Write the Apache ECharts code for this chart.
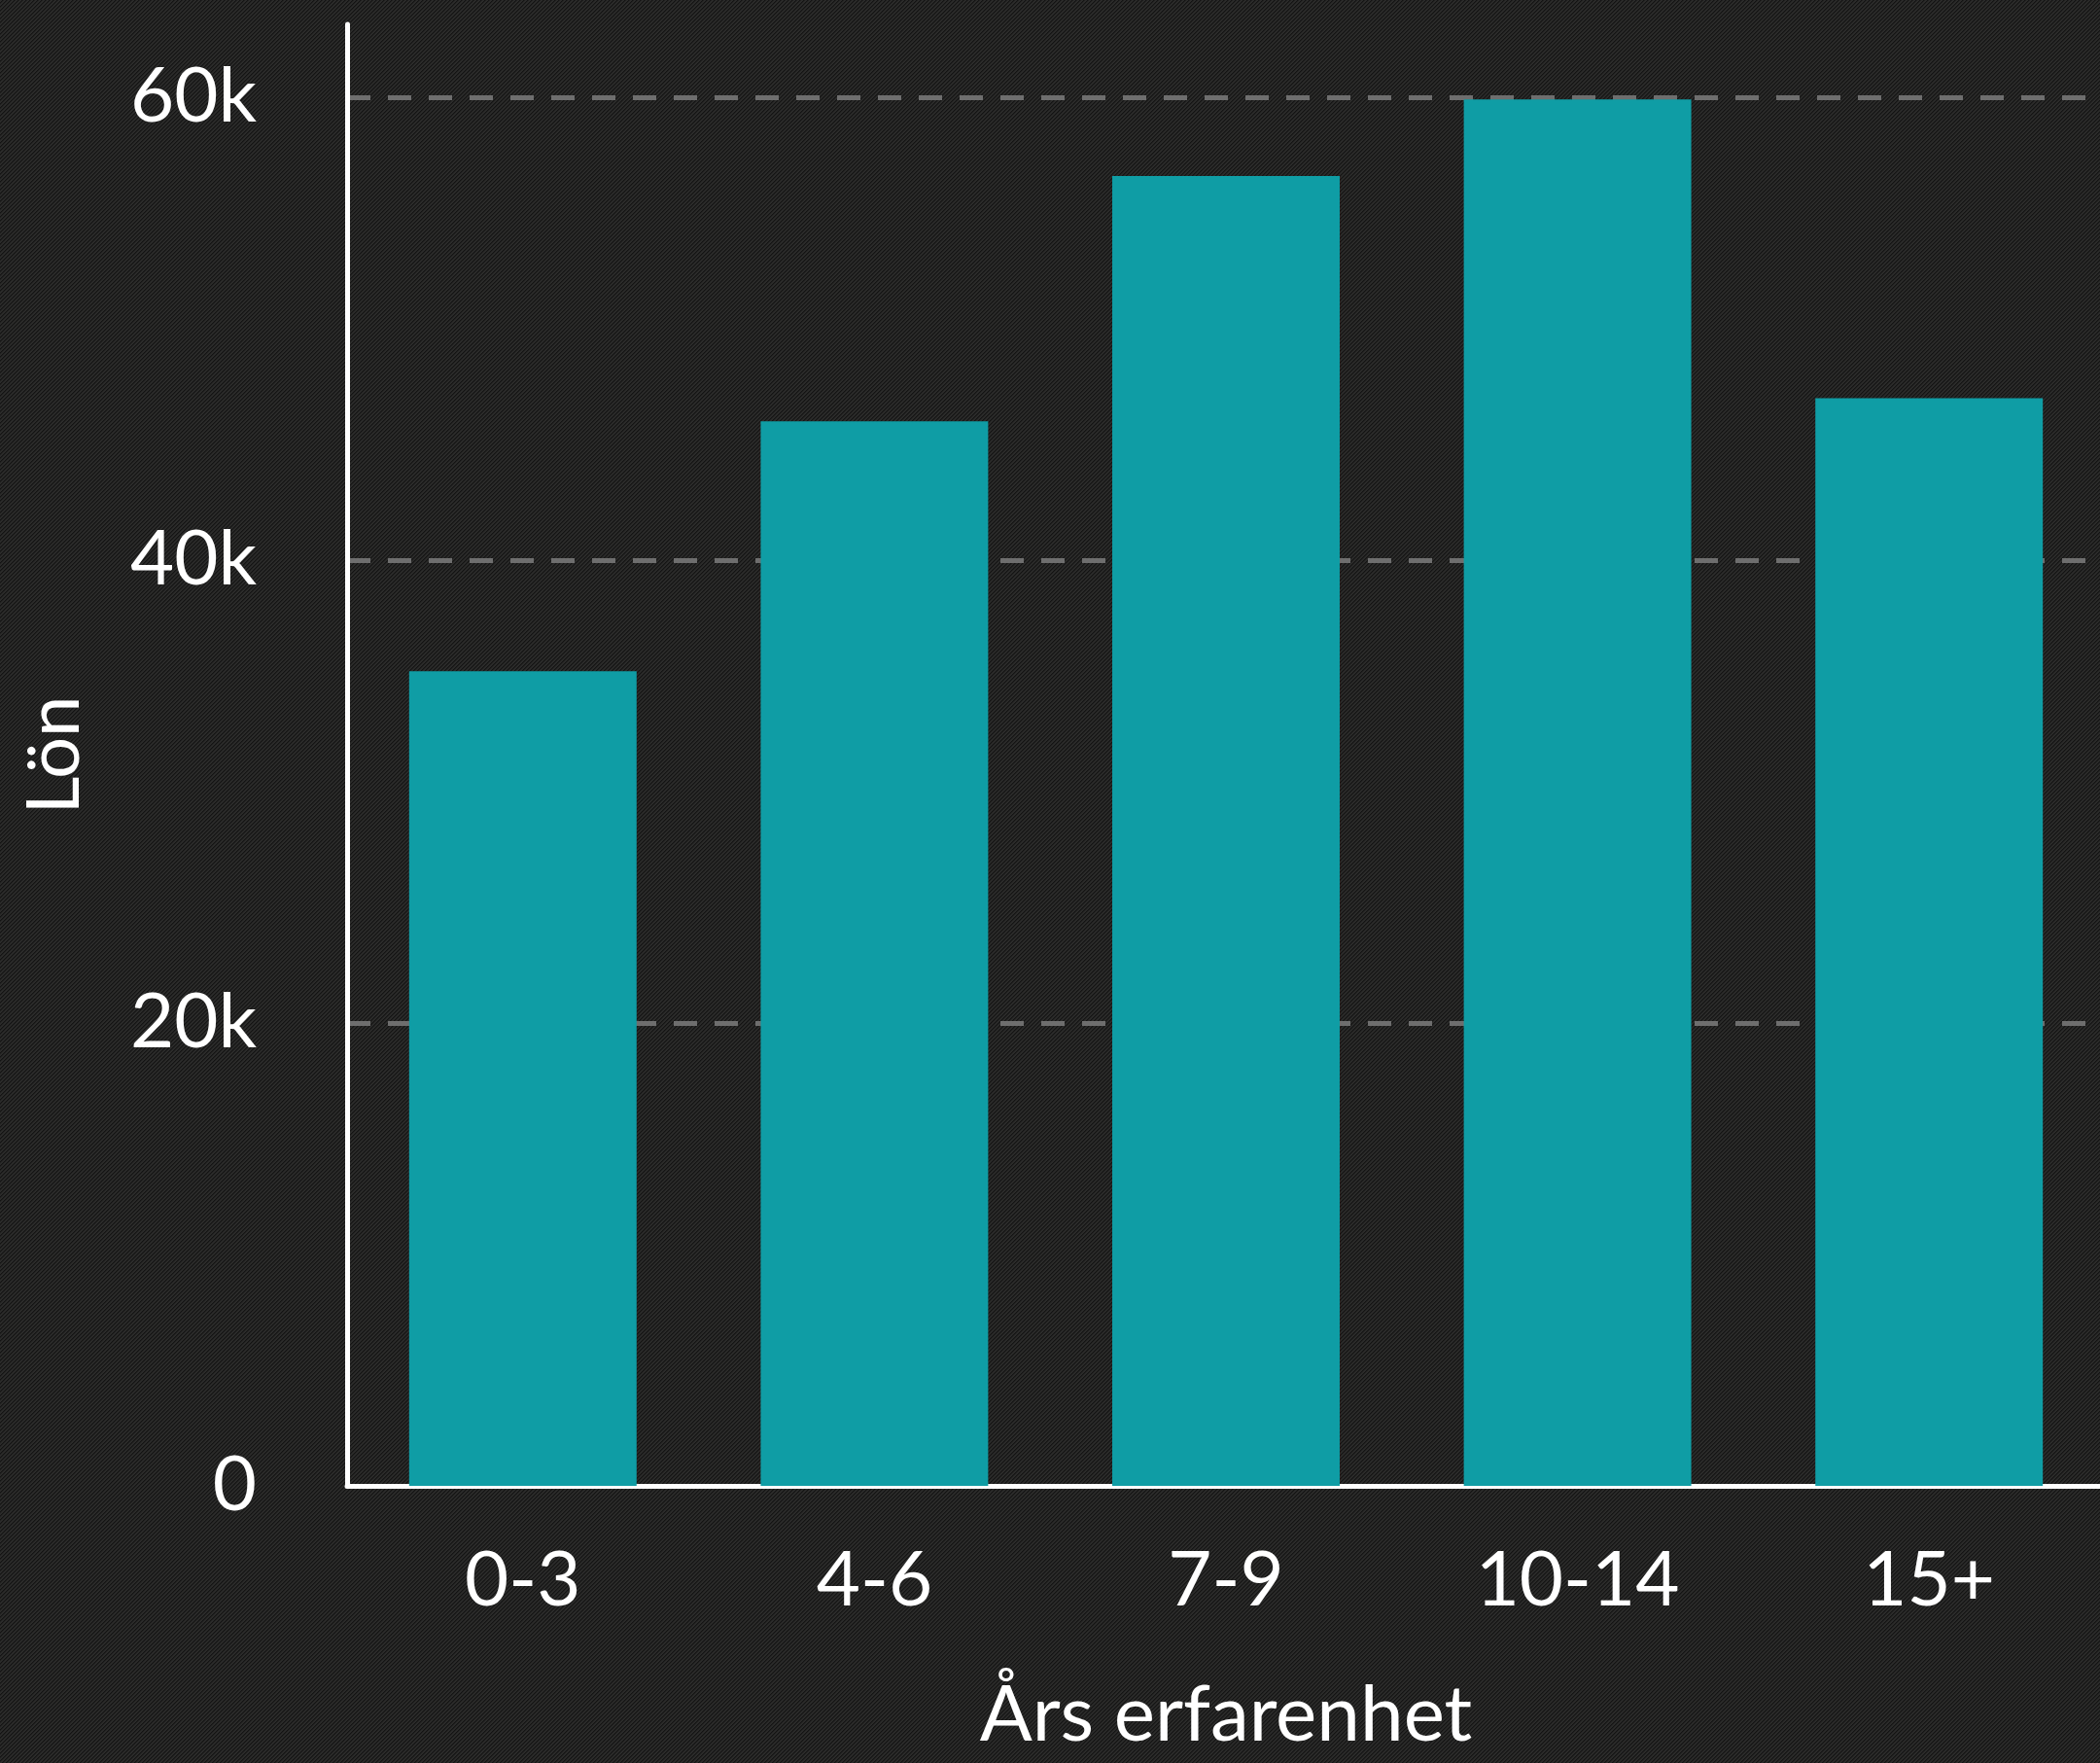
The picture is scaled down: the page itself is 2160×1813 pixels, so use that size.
<!DOCTYPE html>
<html>
<head>
<meta charset="utf-8">
<script src="https://cdn.jsdelivr.net/npm/echarts@6/dist/echarts.min.js"></script>
<style>
html,body{margin:0;padding:0;background:#1f1f1e;}
#chart{width:2160px;height:1813px;}
</style>
</head>
<body>
<div id="chart"></div>
<script>
const categories = ['0-3', '4-6', '7-9', '10-14', '15+'];
const salaries = [35200, 46000, 56600, 59900, 47000];
const yTicks = [0, 20000, 40000, 60000];
const xName = 'Års erfarenhet';
const yName = 'Lön';

// texture tile for background
const tile = document.createElement('canvas');
tile.width = 8; tile.height = 8;
const tctx = tile.getContext('2d');
const shades = ['#2b2b2a', '#1f1f1e', '#141414', '#1f1f1e'];
for (let y = 0; y < 8; y++) {
  for (let x = 0; x < 8; x++) {
    let k = ((x + y) % 4);
    if (((x >> 1) + (y >> 1)) % 2 === 0 && k === 1) k = 0;
    tctx.fillStyle = shades[k];
    tctx.fillRect(x, y, 1, 1);
  }
}

const chart = echarts.init(document.getElementById('chart'), null, {renderer: 'canvas'});
const font = 'Lato, "Noto Sans", sans-serif';
chart.setOption({
  backgroundColor: {image: tile, repeat: 'repeat'},
  animation: false,
  grid: {left: 357, width: 1808, top: 25, bottom: 285, containLabel: false, outerBoundsMode: 'none'},
  xAxis: {
    type: 'category',
    data: categories,
    name: xName,
    nameLocation: 'middle',
    nameGap: 196,
    nameTextStyle: {color: '#ffffff', fontSize: 80, fontFamily: font},
    axisLine: {lineStyle: {color: '#ffffff', width: 5}},
    axisTick: {show: false},
    axisLabel: {color: '#ffffff', fontSize: 78, fontFamily: font, margin: 59}
  },
  yAxis: {
    type: 'value',
    min: 0,
    max: 63150,
    interval: 20000,
    name: yName,
    nameLocation: 'middle',
    nameGap: 263,
    nameTextStyle: {color: '#ffffff', fontSize: 76, fontFamily: font},
    axisLine: {show: true, lineStyle: {color: '#ffffff', width: 5}},
    axisTick: {show: false},
    axisLabel: {
      color: '#ffffff', fontSize: 78, fontFamily: font, margin: 93,
      showMaxLabel: false,
      formatter: function (v) {
        if (yTicks.indexOf(v) < 0) return '';
        return v === 0 ? '0' : (v / 1000) + 'k';
      }
    },
    splitLine: {
      show: true,
      showMaxLine: false,
      showMinLine: false,
      lineStyle: {color: '#6e6e6e', width: 5, type: [24, 18]}
    }
  },
  series: [{
    type: 'bar',
    data: salaries,
    barCategoryGap: '35.3%',
    itemStyle: {color: '#0f9da5'}
  }]
});
</script>
</body>
</html>
